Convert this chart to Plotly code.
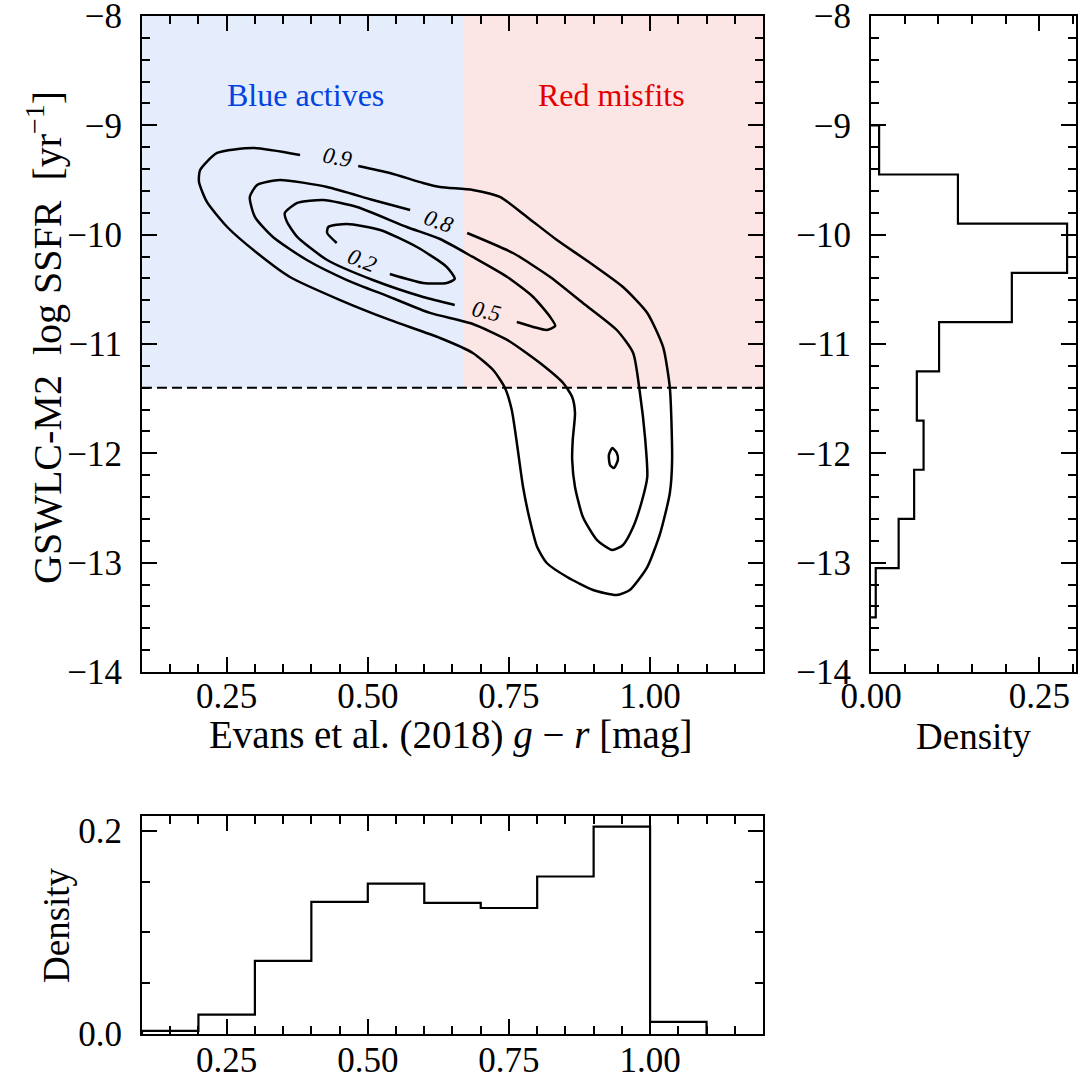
import plotly.graph_objects as go

# ---------------- data ----------------
# colour / SSFR cuts
color_cut = 0.67
ssfr_cut = -11.4

# contour paths (g-r, log SSFR)
c09_x = [0.380, 0.297, 0.233, 0.203, 0.201, 0.215, 0.251, 0.304, 0.362, 0.451, 0.539, 0.628, 0.686, 0.722, 0.743,
         0.755, 0.764, 0.775, 0.787, 0.800, 0.817, 0.853, 0.899, 0.941, 0.964, 0.995, 1.018, 1.035, 1.039, 1.035,
         1.023, 0.995, 0.952, 0.894, 0.835, 0.782, 0.734, 0.686, 0.628, 0.598, 0.539, 0.483]
c09_y = [-9.271, -9.207, -9.253, -9.409, -9.518, -9.701, -9.930, -10.168, -10.387, -10.598, -10.780, -10.945,
         -11.082, -11.238, -11.402, -11.604, -11.905, -12.308, -12.610, -12.857, -13.003, -13.131, -13.250, -13.296,
         -13.250, -13.040, -12.729, -12.363, -12.061, -11.402, -11.027, -10.716, -10.479, -10.259, -10.049, -9.838,
         -9.655, -9.591, -9.564, -9.527, -9.436, -9.372]

c08_x = [0.575, 0.509, 0.428, 0.344, 0.304, 0.291, 0.300, 0.332, 0.392, 0.463, 0.539, 0.610, 0.686, 0.747, 0.805,
         0.846, 0.862, 0.867, 0.863, 0.862, 0.867, 0.881, 0.906, 0.933, 0.952, 0.970, 0.986, 0.995, 0.991, 0.982,
         0.970, 0.941, 0.881, 0.823, 0.757, 0.676]
c08_y = [-9.774, -9.683, -9.564, -9.500, -9.546, -9.655, -9.838, -10.021, -10.232, -10.415, -10.570, -10.716,
         -10.817, -10.963, -11.174, -11.357, -11.485, -11.631, -11.878, -12.061, -12.308, -12.582, -12.793, -12.884,
         -12.838, -12.674, -12.427, -12.216, -11.851, -11.448, -11.082, -10.872, -10.625, -10.387, -10.168, -9.985]

c05_x = [0.764, 0.793, 0.817, 0.832, 0.823, 0.793, 0.747, 0.686, 0.628, 0.569, 0.481, 0.421, 0.375, 0.353, 0.357,
         0.375, 0.428, 0.509, 0.598, 0.654]
c05_y = [-10.799, -10.844, -10.872, -10.835, -10.753, -10.570, -10.387, -10.204, -10.040, -9.930, -9.747, -9.683,
         -9.710, -9.802, -9.884, -10.021, -10.232, -10.415, -10.570, -10.643]

c05b_x = [0.933, 0.941, 0.943, 0.936, 0.929, 0.927, 0.933]
c05b_y = [-11.951, -11.997, -12.061, -12.134, -12.107, -12.015, -11.951]

c02_x = [0.445, 0.428, 0.430, 0.463, 0.522, 0.587, 0.640, 0.654, 0.640, 0.598, 0.539]
c02_y = [-10.076, -9.985, -9.930, -9.902, -9.957, -10.113, -10.296, -10.405, -10.442, -10.442, -10.360]

# contour labels
clab_text = ["0.9", "0.8", "0.2", "0.5"]
clab_x = [0.447, 0.626, 0.490, 0.711]
clab_y = [-9.290, -9.884, -10.232, -10.707]
clab_angle = [11, 20, 22, 13]

# g-r histogram (density)
gr_edges = [0.1, 0.2, 0.3, 0.4, 0.5, 0.6, 0.7, 0.8, 0.9, 1.0, 1.1]
gr_density = [0.003, 0.019, 0.072, 0.130, 0.148, 0.129, 0.124, 0.155, 0.204, 0.012]

# log SSFR histogram (density)
ssfr_edges = [-13.5, -13.05, -12.6, -12.15, -11.7, -11.25, -10.8, -10.35, -9.9, -9.45, -9.0]
ssfr_density = [0.007, 0.041, 0.064, 0.078, 0.068, 0.101, 0.209, 0.291, 0.129, 0.012]

# ---------------- figure ----------------
FONT = "Liberation Serif"
fig = go.Figure()

line = dict(color="black", width=2.5)
for cx, cy in [(c09_x, c09_y), (c08_x, c08_y), (c05_x, c05_y), (c05b_x, c05b_y), (c02_x, c02_y)]:
    fig.add_trace(go.Scatter(x=cx, y=cy, mode="lines", line=dict(line, shape="spline", smoothing=0.6),
                             xaxis="x", yaxis="y", showlegend=False, hoverinfo="skip"))

# bottom histogram (step)
hx = [gr_edges[0]] + gr_edges
hy = [0] + gr_density + [0]
fig.add_trace(go.Scatter(x=hx, y=hy, mode="lines", line=dict(color="black", width=2.2, shape="hv"),
                         xaxis="x3", yaxis="y3", showlegend=False))

# right histogram (horizontal step)
vx = [0] + ssfr_density + [0]
vy = [ssfr_edges[0]] + ssfr_edges
fig.add_trace(go.Scatter(x=vx, y=vy, mode="lines", line=dict(color="black", width=2.2, shape="vh"),
                         xaxis="x2", yaxis="y2", showlegend=False))

# regions
fig.add_shape(type="rect", xref="x", yref="y", x0=0.1, x1=color_cut, y0=ssfr_cut, y1=-8,
              fillcolor="rgba(3,67,223,0.1)", line_width=0, layer="below")
fig.add_shape(type="rect", xref="x", yref="y", x0=color_cut, x1=1.2, y0=ssfr_cut, y1=-8,
              fillcolor="rgba(229,0,0,0.1)", line_width=0, layer="below")
fig.add_shape(type="line", xref="x", yref="y", x0=0.1, x1=1.2, y0=ssfr_cut, y1=ssfr_cut,
              line=dict(color="black", width=2, dash="10px,5px"))

fig.add_annotation(x=0.389, y=-8.72, xref="x", yref="y", text="Blue actives", showarrow=False,
                   font=dict(family=FONT, size=32, color="#0343df"))
fig.add_annotation(x=0.931, y=-8.72, xref="x", yref="y", text="Red misfits", showarrow=False,
                   font=dict(family=FONT, size=32, color="#e50000"))

for t, x, y, a in zip(clab_text, clab_x, clab_y, clab_angle):
    fig.add_annotation(x=x, y=y, xref="x", yref="y", text="<i>" + t + "</i>", showarrow=False,
                       textangle=a, font=dict(family=FONT, size=23, color="black"))

tickfont = dict(family=FONT, size=35, color="black")
titlefont = dict(family=FONT, size=39, color="black")

# axis titles (paper coordinates)
common = dict(xref="paper", yref="paper", showarrow=False, xanchor="center", yanchor="middle")
fig.add_annotation(x=450 / 1078, y=1 - 735 / 1078, text="Evans et al. (2018) <i>g</i> − <i>r</i> [mag]",
                   font=titlefont, **common)
fig.add_annotation(x=974 / 1078, y=1 - 736 / 1078, text="Density", font=dict(titlefont, size=37), **common)
fig.add_annotation(x=44 / 1078, y=1 - 338 / 1078, text="GSWLC-M2  log SSFR  [yr<sup>−1</sup>]",
                   textangle=-90, font=dict(titlefont, size=40), **common)
fig.add_annotation(x=56 / 1078, y=1 - 925 / 1078, text="Density", textangle=-90,
                   font=dict(titlefont, size=37), **common)


def ax(**kw):
    d = dict(showline=True, linecolor="black", linewidth=2, mirror="allticks", ticks="inside",
             ticklen=15, tickwidth=2, tickcolor="black", showgrid=False, zeroline=False,
             tickfont=tickfont, automargin=False, ticklabeloverflow="allow")
    d.update(kw)
    return d


minor_x = dict(dtick=0.05, ticks="inside", ticklen=8, tickwidth=2, tickcolor="black")
minor_y = dict(dtick=0.2, ticks="inside", ticklen=8, tickwidth=2, tickcolor="black")
minor_h = dict(dtick=0.05, ticks="inside", ticklen=8, tickwidth=2, tickcolor="black")

fig.update_layout(
    width=1078, height=1078, margin=dict(l=0, r=0, t=0, b=0),
    paper_bgcolor="white", plot_bgcolor="white",
    font=dict(family=FONT, color="black"),
    xaxis=ax(domain=[0.1317, 0.7078], range=[0.1, 1.2], anchor="y", tick0=0, dtick=0.25, tickformat=".2f",
             minor=minor_x, ticklabelstandoff=-8),
    yaxis=ax(domain=[0.3766, 0.9852], range=[-14, -8], anchor="x", dtick=1, minor=minor_y,
             ticklabelstandoff=11),
    xaxis2=ax(domain=[0.808, 0.998], range=[0, 0.304], anchor="y2", tick0=0, dtick=0.25, tickformat=".2f",
              minor=minor_h, ticklabelstandoff=-8),
    yaxis2=ax(domain=[0.3766, 0.9852], range=[-14, -8], anchor="x2", dtick=1, minor=minor_y,
              ticklabelstandoff=11),
    xaxis3=ax(domain=[0.1317, 0.7078], range=[0.1, 1.2], anchor="y3", tick0=0, dtick=0.25, tickformat=".2f",
              minor=minor_x, ticklabelstandoff=-6),
    yaxis3=ax(domain=[0.0408, 0.2430], range=[0, 0.2145], anchor="x3", dtick=0.2, tickformat=".1f",
              minor=minor_h, ticklabelstandoff=11),
)

fig.write_html("out.html")
